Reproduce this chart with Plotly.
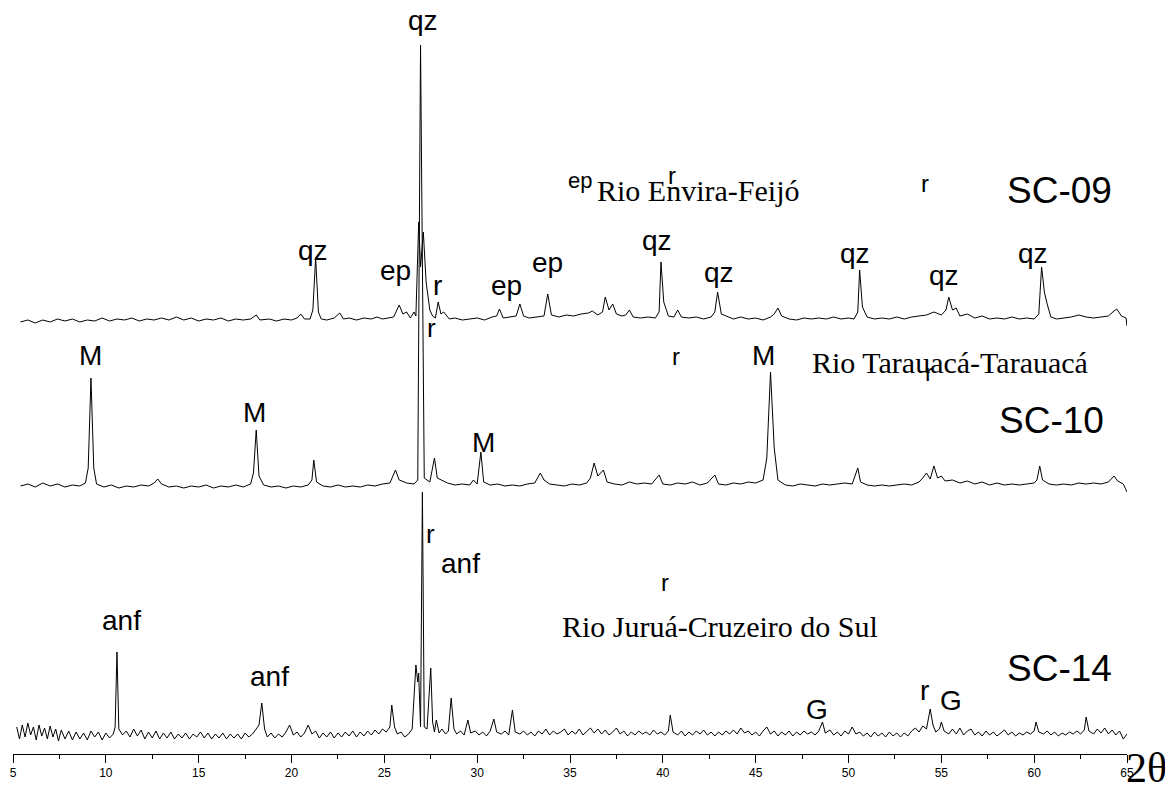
import plotly.graph_objects as go

# digitised XRD patterns: (2theta, intensity above own baseline, a.u.)
sc09 = [
    (5.4, 0), (5.8, 2), (6.2, -1), (6.6, 2), (7.0, 0), (7.4, 3), (7.8, 1), (8.2, 3), (8.6, 0), (9.0, 2),
    (9.4, 1), (9.8, 4), (10.2, 1), (10.6, 3), (11.0, 2), (11.4, 4), (11.8, 1), (12.2, 3), (12.6, 2), (13.0, 4),
    (13.4, 2), (13.8, 5), (14.2, 2), (14.6, 4), (15.0, 1), (15.4, 3), (15.8, 2), (16.2, 4), (16.6, 1), (17.0, 3),
    (17.4, 2), (17.8, 3), (18.1, 7), (18.3, 2), (18.8, 3), (19.2, 1), (19.6, 3), (20.0, 2), (20.3, 4), (20.5, 8),
    (20.7, 3), (21.0, 3), (21.15, 12), (21.3, 64), (21.45, 10), (21.6, 3), (21.9, 2), (22.3, 4), (22.6, 9), (22.8, 3),
    (23.1, 4), (23.5, 2), (23.9, 4), (24.3, 3), (24.6, 5), (24.9, 3), (25.2, 4), (25.5, 5), (25.8, 17), (26.0, 8),
    (26.2, 10), (26.4, 4), (26.6, 10), (26.7, 6), (26.85, 100), (26.95, 55), (27.1, 90), (27.25, 40), (27.45, 12),
    (27.6, 6), (27.75, 4), (27.9, 20), (28.05, 8), (28.2, 10), (28.5, 3), (28.8, 4), (29.2, 2), (29.6, 3), (30.0, 4),
    (30.4, 2), (30.8, 5), (31.05, 6), (31.2, 13), (31.4, 4), (31.8, 5), (32.1, 6), (32.3, 18), (32.5, 6), (32.8, 4),
    (33.2, 5), (33.6, 6), (33.8, 28), (34.0, 7), (34.4, 5), (34.8, 7), (35.2, 6), (35.6, 8), (36.0, 9), (36.2, 11),
    (36.5, 7), (36.75, 10), (36.9, 25), (37.1, 12), (37.3, 18), (37.5, 8), (37.8, 6), (38.0, 7), (38.2, 12), (38.4, 5),
    (38.8, 4), (39.2, 5), (39.6, 4), (39.8, 10), (39.9, 60), (40.05, 20), (40.3, 6), (40.6, 5), (40.8, 12), (41.0, 5),
    (41.4, 4), (41.8, 5), (42.2, 3), (42.6, 5), (42.8, 10), (42.95, 30), (43.15, 8), (43.4, 6), (43.8, 3), (44.2, 5),
    (44.6, 3), (45.0, 4), (45.4, 2), (45.8, 5), (46.0, 8), (46.2, 14), (46.4, 6), (46.8, 3), (47.2, 2), (47.6, 4),
    (48.0, 3), (48.4, 4), (48.8, 3), (49.2, 5), (49.6, 3), (50.0, 4), (50.3, 3), (50.5, 10), (50.6, 52), (50.75, 15),
    (51.0, 5), (51.4, 3), (51.8, 4), (52.2, 3), (52.6, 5), (53.0, 3), (53.4, 5), (53.8, 6), (54.2, 7), (54.6, 10),
    (55.0, 7), (55.25, 12), (55.4, 25), (55.6, 12), (55.8, 14), (56.0, 6), (56.4, 8), (56.8, 4), (57.2, 6), (57.6, 3),
    (58.0, 4), (58.4, 3), (58.8, 5), (59.2, 3), (59.6, 4), (60.0, 3), (60.25, 8), (60.4, 55), (60.55, 30), (60.7, 18),
    (60.9, 5), (61.2, 3), (61.6, 4), (62.0, 5), (62.4, 7), (62.8, 5), (63.2, 4), (63.6, 5), (64.0, 6), (64.3, 11),
    (64.45, 13), (64.7, 6), (64.95, 4), (65.0, -4),
]

sc10 = [
    (5.4, 2), (5.8, 4), (6.2, 1), (6.6, 5), (7.0, 2), (7.4, 4), (7.8, 1), (8.2, 3), (8.6, 2), (8.9, 5),
    (9.05, 20), (9.2, 110), (9.35, 20), (9.5, 4), (9.9, 1), (10.3, 3), (10.7, 0), (11.1, 2), (11.5, 1), (11.9, 3),
    (12.3, 2), (12.6, 5), (12.8, 9), (13.0, 4), (13.4, 1), (13.8, 2), (14.2, 0), (14.6, 2), (15.0, 1), (15.4, 3),
    (15.8, 0), (16.2, 2), (16.6, 1), (17.0, 3), (17.4, 1), (17.8, 4), (17.95, 15), (18.1, 58), (18.25, 12), (18.5, 3),
    (18.9, 1), (19.3, 2), (19.7, 0), (20.1, 2), (20.5, 1), (20.9, 3), (21.1, 8), (21.2, 28), (21.35, 6), (21.7, 2),
    (22.1, 1), (22.5, 3), (22.9, 1), (23.3, 2), (23.7, 1), (24.1, 3), (24.5, 2), (24.9, 4), (25.3, 5), (25.6, 18),
    (25.8, 8), (26.2, 5), (26.6, 4), (26.8, 8), (26.95, 443), (27.15, 10), (27.45, 6), (27.7, 30), (27.85, 10),
    (28.1, 8), (28.4, 5), (28.8, 3), (29.2, 4), (29.6, 3), (29.8, 8), (30.0, 4), (30.2, 36), (30.35, 6), (30.7, 3),
    (31.1, 4), (31.5, 2), (31.9, 3), (32.3, 2), (32.7, 4), (33.1, 5), (33.4, 15), (33.6, 8), (33.9, 4), (34.3, 3),
    (34.7, 2), (35.1, 4), (35.5, 3), (35.9, 5), (36.1, 10), (36.3, 25), (36.5, 12), (36.8, 18), (37.0, 6), (37.4, 4),
    (37.8, 3), (38.2, 6), (38.6, 4), (39.0, 5), (39.4, 4), (39.8, 13), (40.0, 4), (40.4, 3), (40.8, 5), (41.2, 4),
    (41.6, 6), (42.0, 3), (42.4, 5), (42.8, 13), (43.0, 4), (43.4, 3), (43.8, 5), (44.2, 4), (44.6, 6), (45.0, 5),
    (45.4, 8), (45.6, 30), (45.8, 116), (46.0, 40), (46.2, 8), (46.6, 3), (47.0, 2), (47.4, 4), (47.8, 3), (48.2, 2),
    (48.6, 4), (49.0, 3), (49.4, 4), (49.8, 5), (50.2, 4), (50.5, 20), (50.65, 6), (51.0, 3), (51.4, 2), (51.8, 3),
    (52.2, 2), (52.6, 3), (53.0, 4), (53.4, 3), (53.8, 6), (54.0, 10), (54.2, 15), (54.4, 9), (54.6, 22), (54.8, 10),
    (55.0, 12), (55.2, 7), (55.6, 8), (56.0, 5), (56.4, 7), (56.8, 4), (57.2, 6), (57.6, 3), (58.0, 5), (58.4, 3),
    (58.8, 4), (59.2, 3), (59.6, 4), (60.0, 5), (60.15, 8), (60.3, 22), (60.45, 8), (60.8, 4), (61.2, 3), (61.6, 4),
    (62.0, 3), (62.4, 5), (62.8, 4), (63.2, 5), (63.6, 4), (64.0, 6), (64.3, 12), (64.5, 7), (64.8, 4), (65.0, -4),
]

sc14 = [
    (5.2, 10), (5.35, -2), (5.5, 12), (5.65, 0), (5.8, 14), (5.95, 2), (6.1, 10), (6.25, -3), (6.4, 12), (6.55, 1),
    (6.7, 9), (6.85, -2), (7.0, 11), (7.15, 0), (7.3, 8), (7.45, -4), (7.6, 7), (7.8, -2), (8.0, 6), (8.2, -3),
    (8.4, 5), (8.6, -2), (8.8, 4), (9.0, -3), (9.2, 6), (9.4, 0), (9.6, 5), (9.8, -3), (10.0, 4), (10.2, -1),
    (10.4, 3), (10.5, 10), (10.6, 85), (10.7, 8), (10.9, 2), (11.1, 6), (11.3, 0), (11.5, 8), (11.7, 1), (11.9, 7),
    (12.1, -2), (12.3, 5), (12.5, -1), (12.7, 6), (12.9, -2), (13.1, 4), (13.3, -1), (13.5, 5), (13.7, -2), (13.9, 3),
    (14.1, -1), (14.3, 4), (14.5, -2), (14.7, 3), (14.9, 0), (15.1, 5), (15.3, -1), (15.5, 4), (15.7, -2), (15.9, 3),
    (16.1, -1), (16.3, 4), (16.5, -2), (16.7, 3), (16.9, -1), (17.1, 3), (17.3, -2), (17.5, 4), (17.7, 0), (17.9, 3),
    (18.1, 8), (18.25, 12), (18.4, 34), (18.55, 8), (18.7, 0), (18.9, 4), (19.1, -1), (19.3, 3), (19.5, 0), (19.7, 5),
    (19.9, 12), (20.1, 2), (20.3, 5), (20.5, 0), (20.7, 4), (20.9, 12), (21.1, 3), (21.3, 6), (21.5, -1), (21.7, 4),
    (21.9, 0), (22.1, 5), (22.3, -1), (22.5, 4), (22.7, 0), (22.9, 5), (23.1, 1), (23.3, 6), (23.5, 0), (23.7, 5),
    (23.9, 1), (24.1, 6), (24.3, 2), (24.5, 7), (24.7, 3), (24.9, 8), (25.1, 5), (25.3, 10), (25.4, 32), (25.55, 10),
    (25.7, 3), (25.9, 5), (26.1, 0), (26.3, 3), (26.5, 8), (26.7, 72), (26.8, 55), (26.85, 64), (26.95, 10),
    (27.05, 245), (27.15, 10), (27.3, 8), (27.5, 69), (27.6, 15), (27.7, 5), (27.8, 17), (27.95, 4), (28.1, 8),
    (28.3, 3), (28.45, 6), (28.6, 39), (28.75, 8), (28.9, 3), (29.1, 6), (29.3, 2), (29.5, 17), (29.65, 4), (29.9, 6),
    (30.1, 2), (30.3, 5), (30.5, 1), (30.7, 6), (30.9, 18), (31.05, 5), (31.3, 3), (31.5, 6), (31.7, 2), (31.9, 27),
    (32.05, 5), (32.3, 3), (32.5, 6), (32.7, 2), (32.9, 5), (33.1, 1), (33.3, 6), (33.5, 3), (33.7, 8), (33.9, 2),
    (34.1, 6), (34.3, 3), (34.5, 5), (34.7, 8), (34.9, 2), (35.1, 6), (35.3, 3), (35.5, 8), (35.7, 2), (35.9, 6),
    (36.1, 9), (36.3, 4), (36.5, 8), (36.7, 3), (36.9, 7), (37.1, 2), (37.3, 5), (37.5, 9), (37.7, 3), (37.9, 6),
    (38.1, 1), (38.3, 5), (38.5, 2), (38.7, 6), (38.9, 3), (39.1, 5), (39.3, 2), (39.5, 7), (39.7, 3), (39.9, 5),
    (40.1, 2), (40.3, 6), (40.4, 22), (40.55, 5), (40.8, 2), (41.0, 6), (41.2, 1), (41.4, 5), (41.6, 2), (41.8, 6),
    (42.0, 3), (42.2, 7), (42.4, 2), (42.6, 5), (42.8, 1), (43.0, 5), (43.2, 2), (43.4, 6), (43.6, 3), (43.8, 7),
    (44.0, 3), (44.2, 9), (44.4, 4), (44.6, 6), (44.8, 2), (45.0, 5), (45.2, 1), (45.4, 6), (45.6, 10), (45.8, 3),
    (46.0, 6), (46.2, 1), (46.4, 5), (46.6, 2), (46.8, 6), (47.0, 1), (47.2, 5), (47.4, 2), (47.6, 6), (47.8, 3),
    (48.0, 5), (48.2, 2), (48.4, 6), (48.6, 15), (48.75, 4), (49.0, 7), (49.2, 2), (49.4, 5), (49.6, 1), (49.8, 6),
    (50.0, 3), (50.2, 10), (50.4, 3), (50.6, 5), (50.8, 1), (51.0, 4), (51.2, 0), (51.4, 5), (51.6, 1), (51.8, 4),
    (52.0, 0), (52.2, 5), (52.4, 1), (52.6, 4), (52.8, 0), (53.0, 4), (53.2, 1), (53.4, 6), (53.6, 9), (53.8, 5),
    (54.0, 11), (54.2, 8), (54.4, 28), (54.55, 12), (54.7, 5), (54.9, 8), (55.0, 15), (55.15, 6), (55.4, 3), (55.6, 8),
    (55.8, 3), (56.0, 9), (56.2, 2), (56.4, 6), (56.6, 8), (56.8, 2), (57.0, 5), (57.2, 1), (57.4, 6), (57.6, 2),
    (57.8, 5), (58.0, 1), (58.2, 4), (58.4, 7), (58.6, 2), (58.8, 5), (59.0, 1), (59.2, 4), (59.4, 2), (59.6, 5),
    (59.8, 3), (60.0, 6), (60.1, 15), (60.25, 5), (60.5, 3), (60.7, 6), (60.9, 2), (61.1, 5), (61.3, 1), (61.5, 4),
    (61.7, 2), (61.9, 5), (62.1, 3), (62.3, 6), (62.5, 3), (62.7, 7), (62.8, 20), (62.95, 6), (63.2, 3), (63.4, 8),
    (63.6, 4), (63.8, 9), (64.0, 3), (64.2, 7), (64.4, 2), (64.6, 6), (64.8, -2), (65.0, 3),
]

# vertical stacking offsets of each pattern
offsets = {"SC-09": 432, "SC-10": 266, "SC-14": 17}
patterns = {"SC-09": sc09, "SC-10": sc10, "SC-14": sc14}

ARIAL = "Arial, Liberation Sans, sans-serif"
TIMES = "Times New Roman, Liberation Serif, serif"

fig = go.Figure()
for name, pts in patterns.items():
    xs = [p[0] for p in pts]
    ys = [p[1] + offsets[name] for p in pts]
    fig.add_trace(go.Scatter(x=xs, y=ys, mode="lines", name=name,
                             line=dict(color="black", width=1)))

# (text, x, y, size, font)
labels = [
    ("qz", 27.08, 734, 28, ARIAL),
    ("qz", 21.15, 504, 28, ARIAL),
    ("ep", 25.62, 484, 28, ARIAL),
    ("r", 27.89, 469, 28, ARIAL),
    ("ep", 31.6, 469, 28, ARIAL),
    ("ep", 33.8, 492, 28, ARIAL),
    ("qz", 39.68, 514, 28, ARIAL),
    ("qz", 43.02, 482, 28, ARIAL),
    ("qz", 50.34, 501, 28, ARIAL),
    ("qz", 55.13, 479, 28, ARIAL),
    ("qz", 59.93, 501, 28, ARIAL),
    ("ep", 35.53, 574, 22, ARIAL),
    ("r", 40.49, 579, 24, ARIAL),
    ("r", 54.11, 571, 24, ARIAL),
    ("r", 27.56, 426, 26, ARIAL),
    ("M", 9.2, 399, 28, ARIAL),
    ("M", 18.03, 342, 28, ARIAL),
    ("M", 30.36, 312, 28, ARIAL),
    ("r", 40.7, 398, 24, ARIAL),
    ("M", 45.44, 399, 28, ARIAL),
    ("r", 54.33, 382, 24, ARIAL),
    ("r", 27.5, 220, 26, ARIAL),
    ("anf", 29.12, 191, 28, ARIAL),
    ("r", 40.11, 172, 24, ARIAL),
    ("anf", 10.87, 134, 28, ARIAL),
    ("anf", 18.79, 78, 28, ARIAL),
    ("G", 48.3, 45, 28, ARIAL),
    ("r", 54.11, 64, 28, ARIAL),
    ("G", 55.51, 54, 28, ARIAL),
    ("SC-09", 61.38, 564, 37, ARIAL),
    ("SC-10", 60.95, 334, 37, ARIAL),
    ("SC-14", 61.38, 86, 37, ARIAL),
    ("Rio Envira-Feijó", 41.89, 564, 30, TIMES),
    ("Rio Tarauacá-Tarauacá", 55.46, 392, 30, TIMES),
    ("Rio Juruá-Cruzeiro do Sul", 43.07, 128, 30, TIMES),
]
for text, x, y, size, family in labels:
    fig.add_annotation(x=x, y=y, text=text, showarrow=False, xanchor="center", yanchor="middle",
                       font=dict(family=family, size=size, color="black"))

fig.add_annotation(x=1.0, y=-0.019, xref="paper", yref="paper", text="2θ", showarrow=False,
                   xanchor="left", yanchor="middle", xshift=-3,
                   font=dict(family=TIMES, size=42, color="black"))

# the page body adds an 8px margin, so the figure margins make up for it
fig.update_layout(
    width=1173, height=788,
    margin=dict(l=5, r=54, t=0, b=42, autoexpand=False),
    paper_bgcolor="white", plot_bgcolor="white",
    showlegend=False,
    xaxis=dict(range=[5, 65], tick0=5, dtick=5, ticks="outside", ticklen=8, tickwidth=1,
               tickcolor="black", showline=True, linecolor="black", linewidth=1,
               showgrid=False, zeroline=False, automargin=False,
               tickfont=dict(family=ARIAL, size=12, color="black"),
               minor=dict(dtick=2.5, ticks="outside", ticklen=4, tickcolor="black")),
    yaxis=dict(range=[0, 746], visible=False, showgrid=False, zeroline=False, automargin=False),
)

fig.write_html("out.html")
